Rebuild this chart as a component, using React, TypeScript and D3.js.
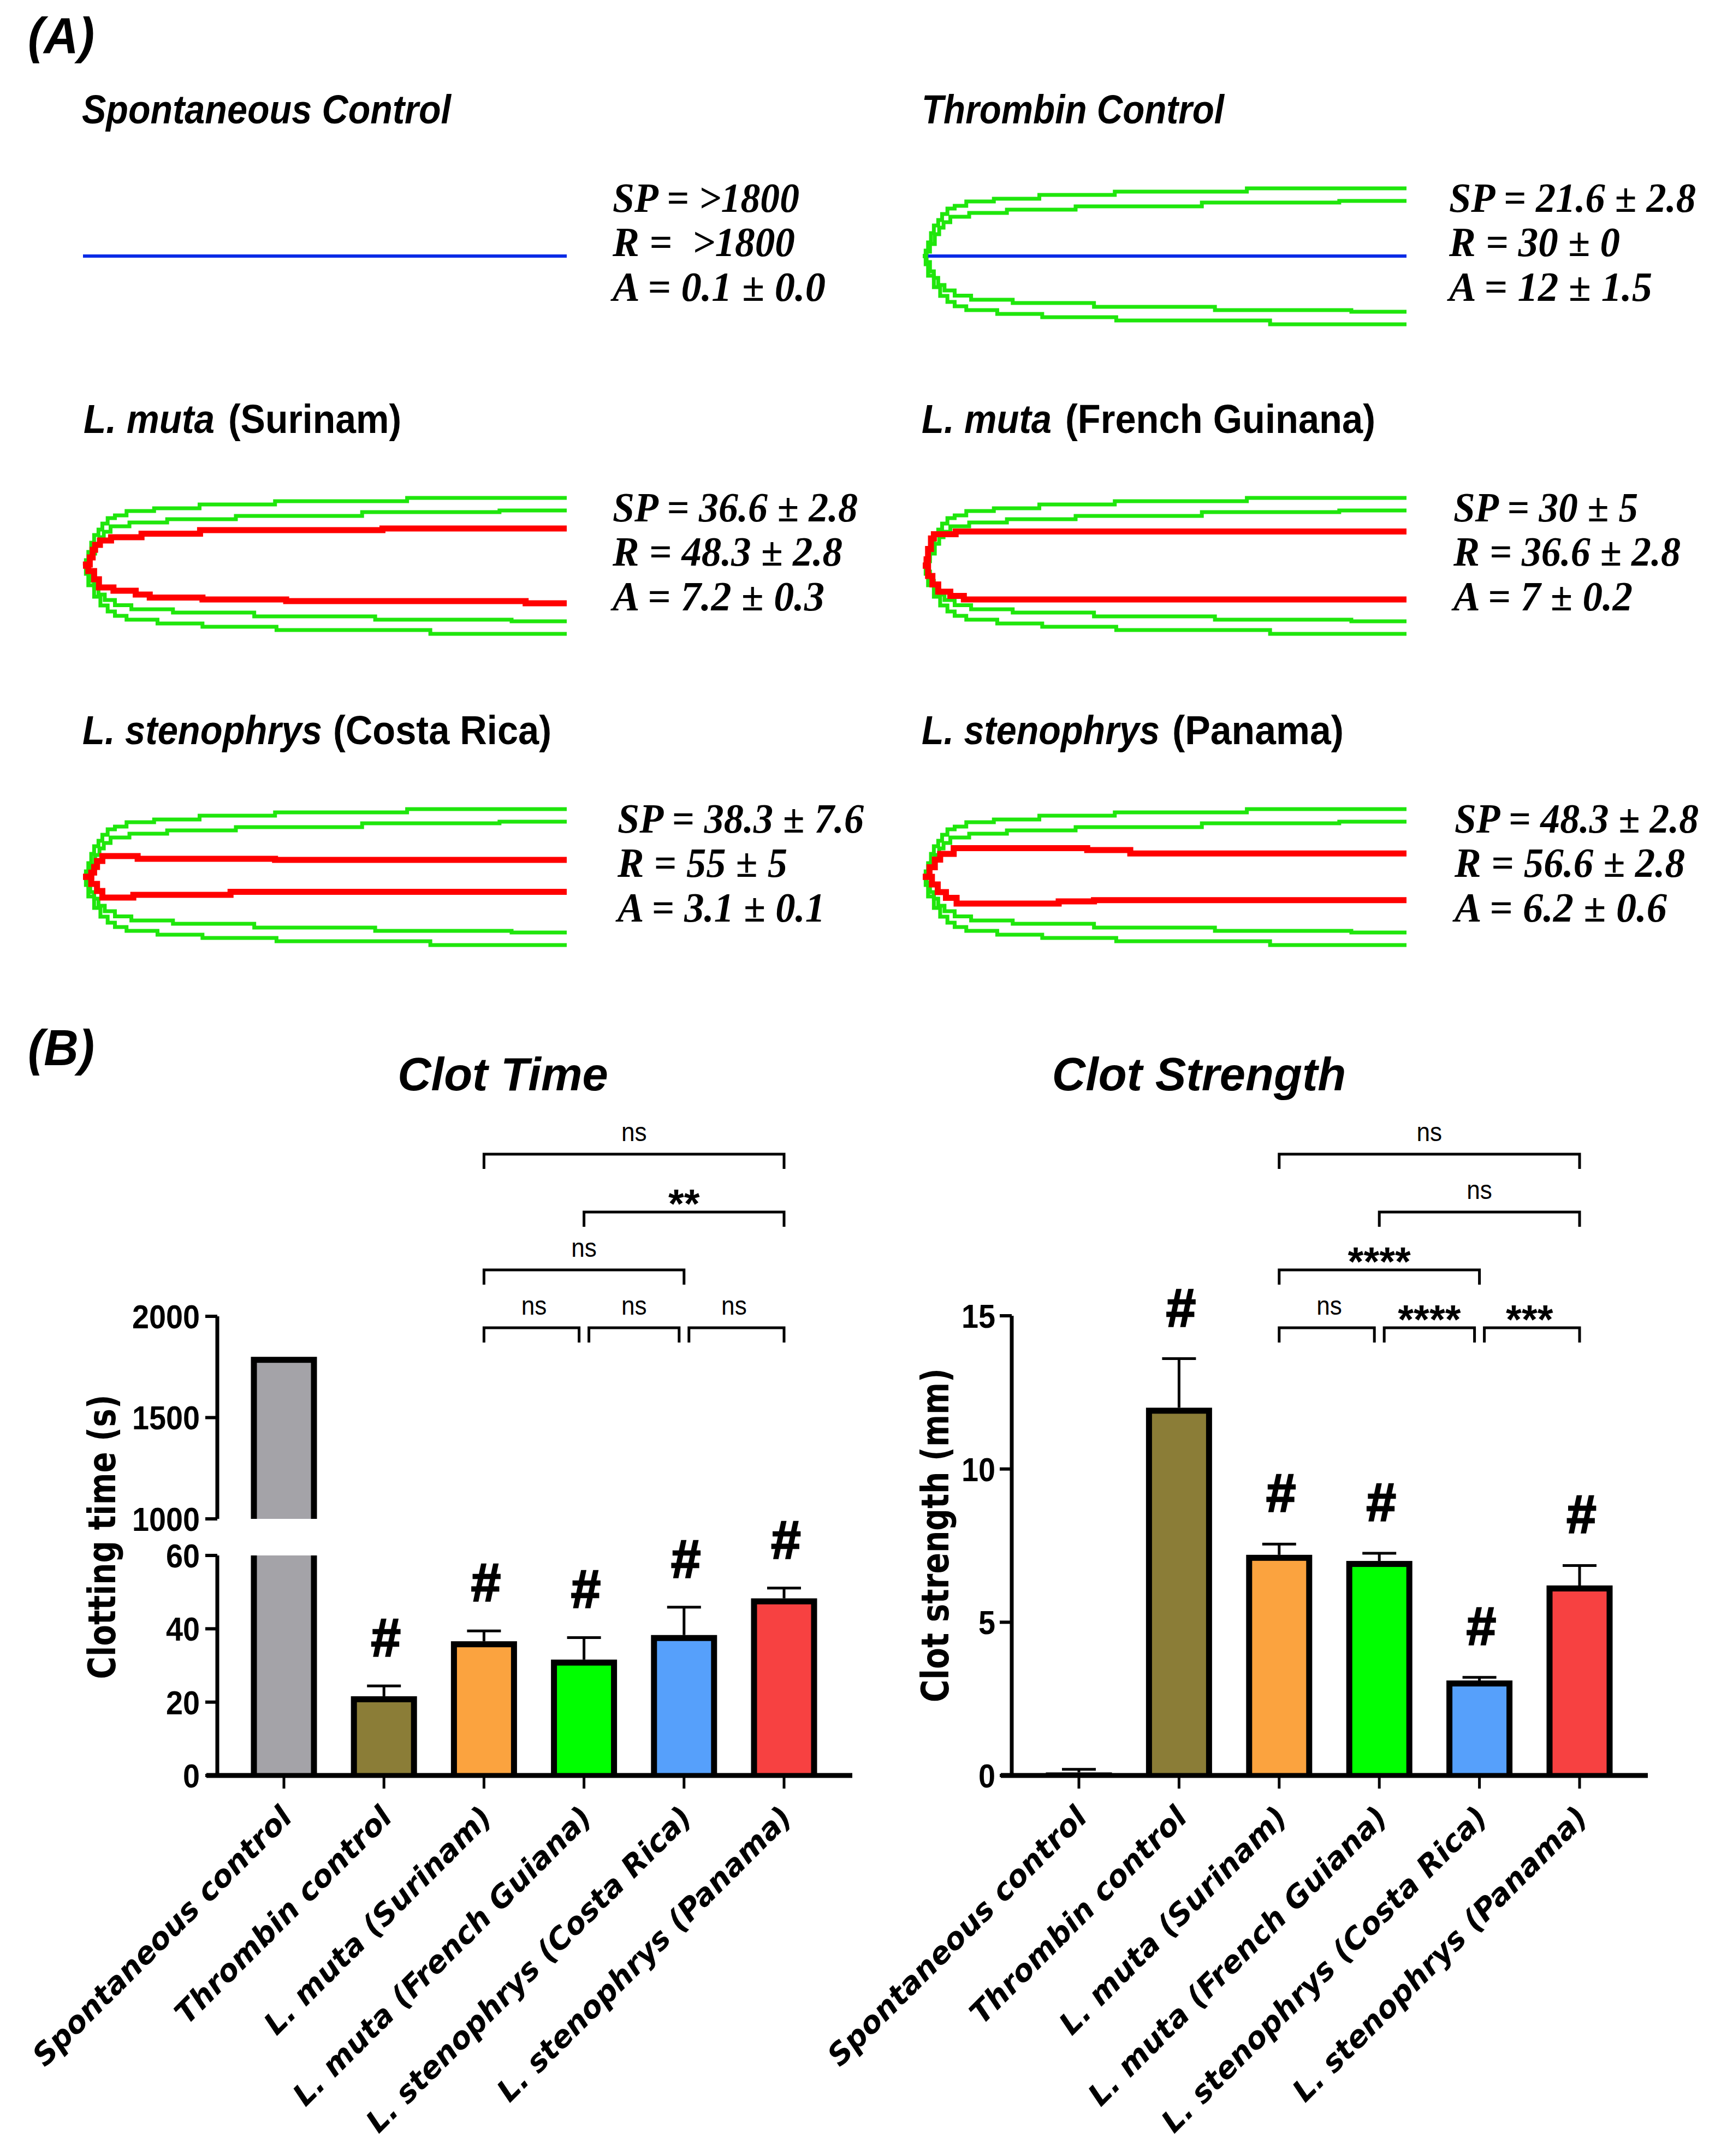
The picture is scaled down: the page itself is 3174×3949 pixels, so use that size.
import React from "react";
import * as d3 from "d3";

const W = 3174;
const H = 3949;
const SANS = "'Liberation Sans', Arial, Helvetica, sans-serif";
const WIDE = "'DejaVu Sans', Verdana, sans-serif";
const SERIF = "'Liberation Serif', 'Times New Roman', serif";

// ---------------- Part A data (TEG tracings) ----------------
// [time % of trace, amplitude] ; reference envelope (green), same in every panel
const greenTopOuter = [[0,0],[0.6,10],[1.1,25],[1.7,42],[2.3,56],[3.2,66],[4.0,77],[5.1,87],[6.6,92],[9.0,100],[14.7,105],[24.1,112],[39.7,118],[67.0,124],[100,124]];
const greenTopInner = [[0,0],[0.8,8],[1.5,22],[2.5,40],[3.4,52],[4.3,62],[5.7,72],[9.6,79],[17.4,85],[31.6,91],[57.7,98],[86.1,101],[100,101]];
const greenBottomInner = [[0,0],[0.8,11],[1.5,28],[2.3,40],[3.2,53],[4.5,63],[6.6,72.5],[10.0,80],[18.6,86],[35.4,93],[60.4,99],[88.6,102],[100,102]];
const greenBottomOuter = [[0,0],[0.6,15],[1.1,36],[2.3,57],[3.6,73],[5.1,84],[6.6,92],[9.0,99],[15.4,106],[24.7,112],[40.0,118],[71.8,125],[100,125]];

const surinamTop = [[0,0],[0.6,2],[1.4,15],[2.0,29],[2.5,38],[3.5,46],[5.8,52],[12.1,58.5],[24.2,65],[61.9,68],[100,68]];
const surinamBottom = [[0,0],[1.1,10],[2.3,25],[3.3,40],[6.3,46],[10.9,53],[13.8,58.5],[24.7,62],[42.0,65],[91.5,69],[100,69]];
const frenchGuianaTop = [[0,0],[0.8,11.5],[1.1,30.6],[1.7,49.8],[2.3,57.4],[6.8,62.4],[100,62.4]];
const frenchGuianaBottom = [[0,0],[1.1,19],[2.0,34.4],[3.2,47.8],[5.7,55.5],[8.5,62],[100,62]];
const costaRicaTop = [[0,0],[1.7,7.7],[2.3,18],[2.9,29],[4.0,38],[11.3,33],[39.7,31],[100,31]];
const costaRicaBottom = [[0,0],[1.7,13],[2.9,26],[4.0,38],[10.4,33],[30.5,27.4],[100,27.4]];
const panamaTop = [[0,0],[1.4,17.5],[2.5,31.6],[3.6,42],[6.4,52.6],[34.0,49],[42.9,42.8],[100,42.8]];
const panamaBottom = [[0,0],[1.9,14],[3.1,28],[4.8,38.6],[7.0,49],[28.1,45],[35.4,42.8],[100,42.8]];

const panelTitles = [
  [{ t: "Spontaneous Control", i: true }],
  [{ t: "Thrombin Control", i: true }],
  [{ t: "L. muta", i: true }, { t: "(Surinam)", i: false }],
  [{ t: "L. muta", i: true }, { t: "(French Guinana)", i: false }],
  [{ t: "L. stenophrys", i: true }, { t: "(Costa Rica)", i: false }],
  [{ t: "L. stenophrys", i: true }, { t: "(Panama)", i: false }],
];
const panelStats = [
  ["SP = >1800", "R =  >1800", "A = 0.1 ± 0.0"],
  ["SP = 21.6 ± 2.8", "R = 30 ± 0", "A = 12 ± 1.5"],
  ["SP = 36.6 ± 2.8", "R = 48.3 ± 2.8", "A = 7.2 ± 0.3"],
  ["SP = 30 ± 5", "R = 36.6 ± 2.8", "A = 7 ± 0.2"],
  ["SP = 38.3 ± 7.6", "R = 55 ± 5", "A = 3.1 ± 0.1"],
  ["SP = 48.3 ± 2.8", "R = 56.6 ± 2.8", "A = 6.2 ± 0.6"],
];
const panelRed = [null, null, [surinamTop, surinamBottom], [frenchGuianaTop, frenchGuianaBottom], [costaRicaTop, costaRicaBottom], [panamaTop, panamaBottom]];
const panelGreen = [false, true, true, true, true, true];
const panelBlue = [[0, 100], [1.1, 100], null, null, null, null];

// layout for part A
const panelX = [152, 1690, 152, 1690, 152, 1690];
const panelCY = [469, 469, 1036, 1036, 1606, 1606];
const PANEL_W = 886;
const titleSegX = [[150], [1688], [153, 418], [1688, 1951], [151, 610], [1688, 2147]];
const titleSegW = [[676], [554], [240, 317], [238, 568], [439, 400], [436, 314]];
const statX = [1122, 2654, 1122, 2662, 1131, 2664];
const statW = [[342, 334, 390], [452, 313, 372], [449, 421, 388], [338, 416, 328], [451, 311, 380], [447, 422, 389]];
const statDY = [-81, 0, 82];

// ---------------- Part B data ----------------
const categories = ["Spontaneous control", "Thrombin control", "L. muta (Surinam)", "L. muta (French Guiana)", "L. stenophrys (Costa Rica)", "L. stenophrys (Panama)"];
const catSpecies = ["", "", "L. muta", "L. muta", "L. stenophrys", "L. stenophrys"];
const catRest = ["Spontaneous control", "Thrombin control", " (Surinam)", " (French Guiana)", " (Costa Rica)", " (Panama)"];
const barColors = ["#A4A3A8", "#8B7D37", "#FBA33F", "#00FF00", "#56A0FB", "#F74141"];
const clotTimeMean = [1800, 21.6, 36.6, 31.6, 38.3, 48.3];
const clotTimeSD = [0, 2.8, 2.8, 6.0, 7.6, 2.8];
const clotTimeHash = [false, true, true, true, true, true];
const clotStrengthMean = [0.1, 12.0, 7.2, 7.0, 3.1, 6.2];
const clotStrengthSD = [0.1, 1.6, 0.35, 0.25, 0.1, 0.65];
const clotStrengthHash = [false, true, true, true, true, true];
const clotTimeLowTicks = [0, 20, 40, 60];
const clotTimeHighTicks = [1000, 1500, 2000];
const clotStrengthTicks = [0, 5, 10, 15];
const clotTimeComparisons = [
  { a: 2, b: 5, level: 3, label: "ns" },
  { a: 3, b: 5, level: 2, label: "**" },
  { a: 2, b: 4, level: 1, label: "ns" },
  { a: 2, b: 3, level: 0, label: "ns" },
  { a: 3, b: 4, level: 0, label: "ns" },
  { a: 4, b: 5, level: 0, label: "ns" },
];
const clotStrengthComparisons = [
  { a: 2, b: 5, level: 3, label: "ns" },
  { a: 3, b: 5, level: 2, label: "ns" },
  { a: 2, b: 4, level: 1, label: "****" },
  { a: 2, b: 3, level: 0, label: "ns" },
  { a: 3, b: 4, level: 0, label: "****" },
  { a: 4, b: 5, level: 0, label: "***" },
];

// scales for part B
const xCT = d3.scalePoint().domain(categories).range([520, 1436]);
const yLow = d3.scaleLinear().domain([0, 60]).range([3252, 2849]);
const yHigh = d3.scaleLinear().domain([1000, 2000]).range([2782, 2411]);
const xCS = d3.scalePoint().domain(categories).range([1976, 2893]);
const yCS = d3.scaleLinear().domain([0, 15]).range([3252, 2410]);

const BAR_W = 121;
const BORDER = 11;
const AXIS_Y = 3252;

function Panel({ idx }) {
  const x0 = panelX[idx];
  const cy = panelCY[idx];
  const xs = d3.scaleLinear().domain([0, 100]).range([x0, x0 + PANEL_W]);
  const ysTop = d3.scaleLinear().domain([0, 125]).range([cy, cy - 125]);
  const ysBot = d3.scaleLinear().domain([0, 125]).range([cy, cy + 125]);
  const lineTop = d3.line().x((d) => xs(d[0])).y((d) => ysTop(d[1])).curve(d3.curveStepAfter);
  const lineBot = d3.line().x((d) => xs(d[0])).y((d) => ysBot(d[1])).curve(d3.curveStepAfter);
  const red = panelRed[idx];
  const blue = panelBlue[idx];
  return (
    <g>
      {panelTitles[idx].map((s, k) => (
        <text key={k} x={titleSegX[idx][k]} y={cy - 243} fontFamily={SANS} fontWeight="bold" fontSize={74}
          fontStyle={s.i ? "italic" : "normal"} textLength={titleSegW[idx][k]} lengthAdjust="spacingAndGlyphs">
          {s.t}
        </text>
      ))}
      {panelGreen[idx] && (
        <g fill="none" stroke="#1FE60C" strokeWidth={7} strokeLinejoin="miter" strokeLinecap="butt">
          <path d={lineTop(greenTopOuter)} />
          <path d={lineTop(greenTopInner)} />
          <path d={lineBot(greenBottomInner)} />
          <path d={lineBot(greenBottomOuter)} />
        </g>
      )}
      {red && (
        <g fill="none" stroke="#FF0000" strokeWidth={11} strokeLinejoin="miter">
          <path d={lineTop(red[0])} />
          <path d={lineBot(red[1])} />
        </g>
      )}
      {blue && (
        <line x1={xs(blue[0])} x2={xs(blue[1])} y1={cy} y2={cy} stroke="#0A2BE6" strokeWidth={6} />
      )}
      {panelStats[idx].map((s, k) => (
        <text key={k} x={statX[idx]} y={cy + statDY[k]} fontFamily={SERIF} fontWeight="bold" fontStyle="italic"
          fontSize={76} textLength={statW[idx][k]} lengthAdjust="spacingAndGlyphs" style={{ whiteSpace: "pre" }}>
          {s}
        </text>
      ))}
    </g>
  );
}

function Bar({ cx, yTop, yBottom, color, topBorder = true }) {
  const h = yBottom - yTop;
  const inset = topBorder ? BORDER : 0;
  return (
    <g>
      <rect x={cx - BAR_W / 2} y={yTop} width={BAR_W} height={h} fill="#000" />
      <rect x={cx - BAR_W / 2 + BORDER} y={yTop + inset} width={BAR_W - 2 * BORDER}
        height={Math.max(0, h - inset)} fill={color} />
    </g>
  );
}

function ErrorBar({ cx, y1, y2 }) {
  return (
    <g stroke="#000" strokeWidth={5}>
      <line x1={cx} x2={cx} y1={y1} y2={y2} />
      <line x1={cx - 31} x2={cx + 31} y1={y2} y2={y2} />
    </g>
  );
}

function Hash({ x, y }) {
  return (
    <text x={x} y={y} textAnchor="middle" fontFamily={SANS} fontWeight="bold" fontStyle="italic" fontSize={98}
      stroke="#000" strokeWidth={2.5}>#</text>
  );
}

function Brackets({ comps, xScale }) {
  const baseY = 2432;
  const step = 106;
  return (
    <g>
      {comps.map((c, k) => {
        const y = baseY - c.level * step;
        const shareL = comps.some((o) => o !== c && o.level === c.level && o.b === c.a);
        const shareR = comps.some((o) => o !== c && o.level === c.level && o.a === c.b);
        const xa = xScale(categories[c.a]) + (shareL ? 9 : 0);
        const xb = xScale(categories[c.b]) - (shareR ? 9 : 0);
        const mid = (xScale(categories[c.a]) + xScale(categories[c.b])) / 2;
        const isStar = c.label.indexOf("*") >= 0;
        return (
          <g key={k}>
            <path d={`M${xa},${y + 27}V${y}H${xb}V${y + 27}`} fill="none" stroke="#000" strokeWidth={5} />
            {isStar ? (
              <text x={mid} y={y + 10} textAnchor="middle" fontFamily={SANS} fontWeight="bold" fontSize={74}>{c.label}</text>
            ) : (
              <text x={mid} y={y - 24} textAnchor="middle" fontFamily={SANS} fontSize={48}
                transform={`translate(${mid},0) scale(0.92,1) translate(${-mid},0)`}>{c.label}</text>
            )}
          </g>
        );
      })}
    </g>
  );
}

function XLabels({ xScale }) {
  return (
    <g>
      {categories.map((c, i) => {
        const cx = xScale(c);
        return (
          <text key={i} transform={`translate(${cx + 18},${AXIS_Y + 80}) rotate(-45)`} textAnchor="end"
            fontFamily={WIDE} fontWeight="bold" fontStyle="italic" fontSize={55} style={{ whiteSpace: "pre" }}>
            {catSpecies[i] + catRest[i]}
          </text>
        );
      })}
    </g>
  );
}

function ClotTime() {
  const axX = 398;
  return (
    <g>
      <text x={921} y={1997} textAnchor="middle" fontFamily={SANS} fontWeight="bold" fontStyle="italic" fontSize={85}>Clot Time</text>
      {categories.map((c, i) => {
        const cx = xCT(c);
        const v = clotTimeMean[i];
        if (v > 60) {
          return (
            <g key={i}>
              <Bar cx={cx} yTop={yLow(60)} yBottom={yLow(0)} color={barColors[i]} topBorder={false} />
              <Bar cx={cx} yTop={yHigh(v)} yBottom={yHigh(1000)} color={barColors[i]} />
            </g>
          );
        }
        return <Bar key={i} cx={cx} yTop={yLow(v)} yBottom={yLow(0)} color={barColors[i]} />;
      })}
      {categories.map((c, i) => {
        const v = clotTimeMean[i];
        if (v > 60 || clotTimeSD[i] <= 0) return null;
        return <ErrorBar key={i} cx={xCT(c)} y1={yLow(v)} y2={yLow(v + clotTimeSD[i])} />;
      })}
      {categories.map((c, i) =>
        clotTimeHash[i] ? <Hash key={i} x={xCT(c) + 2} y={yLow(clotTimeMean[i] + clotTimeSD[i]) - 55} /> : null
      )}
      <g stroke="#000">
        <line x1={axX} x2={axX} y1={yHigh(2000)} y2={yHigh(1000)} strokeWidth={7} />
        <line x1={axX} x2={axX} y1={yLow(60)} y2={yLow(0)} strokeWidth={7} />
        {clotTimeHighTicks.map((t) => (
          <line key={t} x1={axX - 22} x2={axX} y1={yHigh(t)} y2={yHigh(t)} strokeWidth={6} />
        ))}
        {clotTimeLowTicks.map((t) => (
          <line key={t} x1={axX - 22} x2={axX} y1={yLow(t)} y2={yLow(t)} strokeWidth={6} />
        ))}
      </g>
      {clotTimeHighTicks.map((t) => (
        <text key={t} x={axX - 32} y={yHigh(t) + 22} textAnchor="end" fontFamily={SANS} fontWeight="bold" fontSize={62}
          transform={`translate(${axX - 32},0) scale(0.9,1) translate(${-(axX - 32)},0)`}>{t}</text>
      ))}
      {clotTimeLowTicks.map((t) => (
        <text key={t} x={axX - 32} y={yLow(t) + 22} textAnchor="end" fontFamily={SANS} fontWeight="bold" fontSize={62}
          transform={`translate(${axX - 32},0) scale(0.9,1) translate(${-(axX - 32)},0)`}>{t}</text>
      ))}
      <text transform={`translate(211,2815) rotate(-90)`} textAnchor="middle" fontFamily={WIDE} fontWeight="bold"
        fontSize={70} textLength={521} lengthAdjust="spacingAndGlyphs">Clotting time (s)</text>
      <line x1={378} x2={1561} y1={AXIS_Y} y2={AXIS_Y} stroke="#000" strokeWidth={9} />
      {categories.map((c) => (
        <line key={c} x1={xCT(c)} x2={xCT(c)} y1={AXIS_Y} y2={AXIS_Y + 24} stroke="#000" strokeWidth={5} />
      ))}
      <XLabels xScale={xCT} />
      <Brackets comps={clotTimeComparisons} xScale={xCT} />
    </g>
  );
}

function ClotStrength() {
  const axX = 1853;
  return (
    <g>
      <text x={2196} y={1997} textAnchor="middle" fontFamily={SANS} fontWeight="bold" fontStyle="italic" fontSize={85}>Clot Strength</text>
      {categories.map((c, i) => (
        <Bar key={i} cx={xCS(c)} yTop={yCS(clotStrengthMean[i])} yBottom={yCS(0)} color={barColors[i]} />
      ))}
      {categories.map((c, i) => (
        <ErrorBar key={i} cx={xCS(c)} y1={yCS(clotStrengthMean[i])} y2={yCS(clotStrengthMean[i] + clotStrengthSD[i])} />
      ))}
      {categories.map((c, i) =>
        clotStrengthHash[i] ? <Hash key={i} x={xCS(c) + 2} y={yCS(clotStrengthMean[i] + clotStrengthSD[i]) - 60} /> : null
      )}
      <g stroke="#000">
        <line x1={axX} x2={axX} y1={yCS(15)} y2={yCS(0)} strokeWidth={7} />
        {clotStrengthTicks.map((t) => (
          <line key={t} x1={axX - 22} x2={axX} y1={yCS(t)} y2={yCS(t)} strokeWidth={6} />
        ))}
      </g>
      {clotStrengthTicks.map((t) => (
        <text key={t} x={axX - 30} y={yCS(t) + 22} textAnchor="end" fontFamily={SANS} fontWeight="bold" fontSize={62}
          transform={`translate(${axX - 30},0) scale(0.9,1) translate(${-(axX - 30)},0)`}>{t}</text>
      ))}
      <text transform={`translate(1737,2812) rotate(-90)`} textAnchor="middle" fontFamily={WIDE} fontWeight="bold"
        fontSize={70} textLength={612} lengthAdjust="spacingAndGlyphs">Clot strength (mm)</text>
      <line x1={1833} x2={3018} y1={AXIS_Y} y2={AXIS_Y} stroke="#000" strokeWidth={9} />
      {categories.map((c) => (
        <line key={c} x1={xCS(c)} x2={xCS(c)} y1={AXIS_Y} y2={AXIS_Y + 24} stroke="#000" strokeWidth={5} />
      ))}
      <XLabels xScale={xCS} />
      <Brackets comps={clotStrengthComparisons} xScale={xCS} />
    </g>
  );
}

export default function App() {
  return (
    <svg width={W} height={H} viewBox={`0 0 ${W} ${H}`} style={{ position: "absolute", left: 0, top: 0, background: "#fff" }}>
      <rect x={0} y={0} width={W} height={H} fill="#fff" />
      <text x={51} y={97} fontFamily={SANS} fontWeight="bold" fontStyle="italic" fontSize={92}
        textLength={122} lengthAdjust="spacingAndGlyphs">(A)</text>
      {panelTitles.map((_, i) => (
        <Panel key={i} idx={i} />
      ))}
      <text x={51} y={1951} fontFamily={SANS} fontWeight="bold" fontStyle="italic" fontSize={92}
        textLength={122} lengthAdjust="spacingAndGlyphs">(B)</text>
      <ClotTime />
      <ClotStrength />
    </svg>
  );
}
